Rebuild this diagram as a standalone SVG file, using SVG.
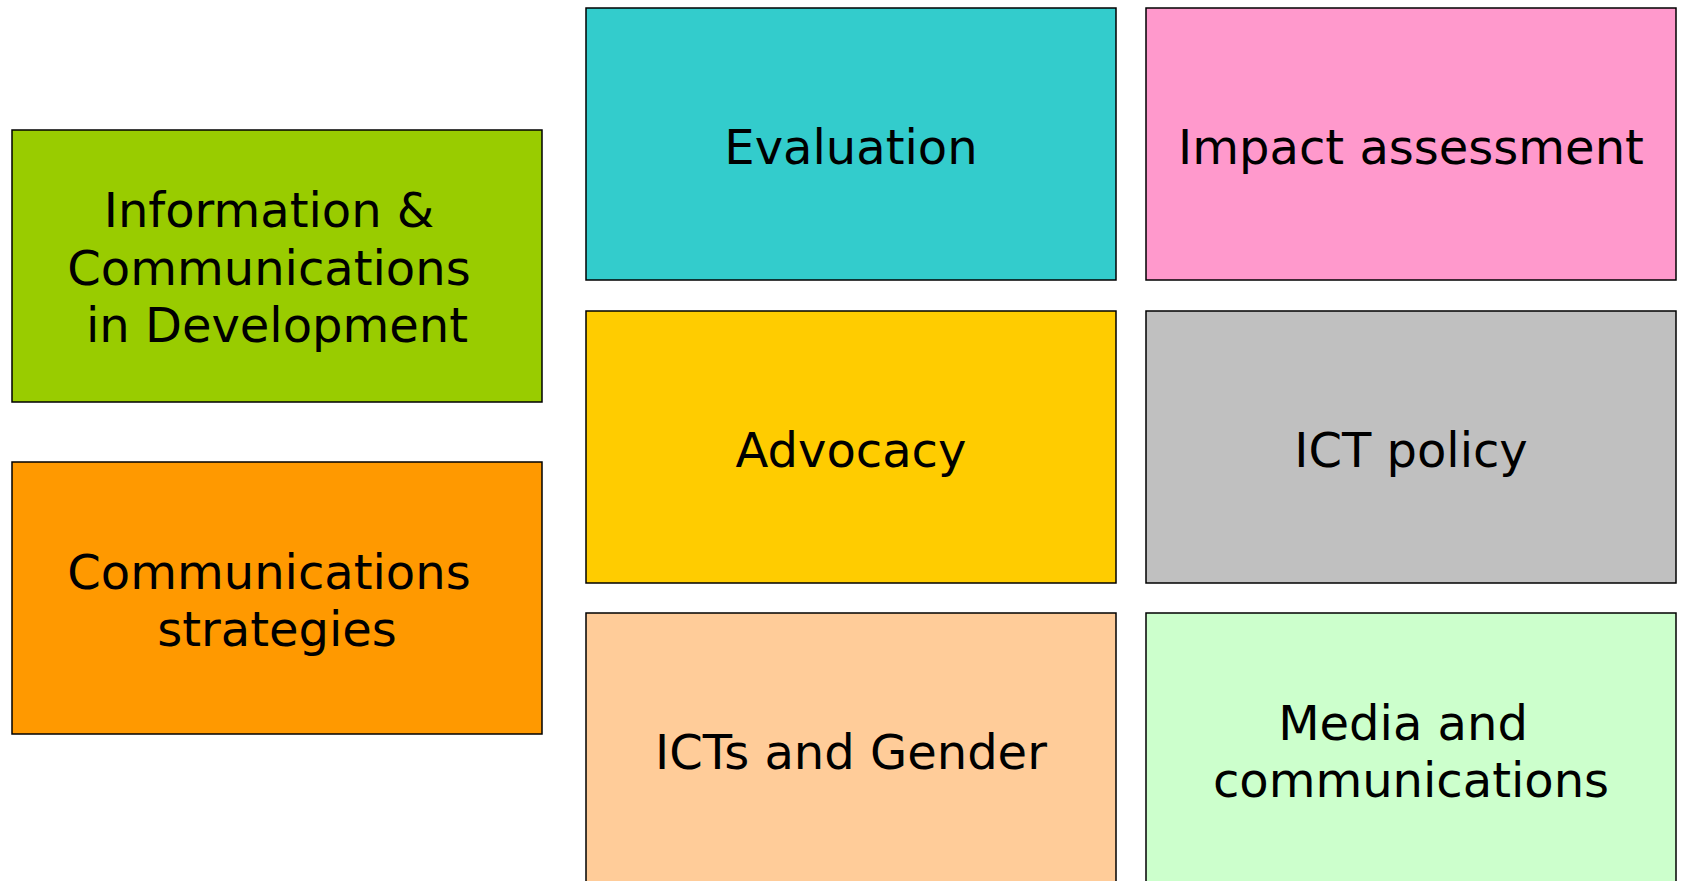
<svg xmlns="http://www.w3.org/2000/svg" width="1681" height="881" viewBox="0 0 1681 881">
<style>
.box{stroke:#000;stroke-width:1.5}
.t{font-family:"DejaVu Sans",Verdana,sans-serif;font-size:48px;fill:#000;text-anchor:middle}
</style>
<rect width="1681" height="881" fill="#fff"/>
<g id="icd">
<rect class="box" x="12" y="130" width="530" height="272" fill="#99CC00"/>
<text class="t"><tspan x="269" y="227">Information &amp;</tspan><tspan x="269" y="285">Communications</tspan><tspan x="277" y="342">in Development</tspan></text>
</g>
<g id="commstrat">
<rect class="box" x="12" y="462" width="530" height="272" fill="#FF9900"/>
<text class="t"><tspan x="269" y="589">Communications</tspan><tspan x="277" y="646">strategies</tspan></text>
</g>
<g id="evaluation">
<rect class="box" x="586" y="8" width="530" height="272" fill="#33CCCC"/>
<text class="t" x="851" y="164">Evaluation</text>
</g>
<g id="impact">
<rect class="box" x="1146" y="8" width="530" height="272" fill="#FF99CC"/>
<text class="t" x="1411" y="164">Impact assessment</text>
</g>
<g id="advocacy">
<rect class="box" x="586" y="311" width="530" height="272" fill="#FFCC00"/>
<text class="t" x="851" y="467">Advocacy</text>
</g>
<g id="ictpolicy">
<rect class="box" x="1146" y="311" width="530" height="272" fill="#C0C0C0"/>
<text class="t" x="1411" y="467">ICT policy</text>
</g>
<g id="gender">
<rect class="box" x="586" y="613" width="530" height="300" fill="#FFCC99"/>
<text class="t" x="851" y="769">ICTs and Gender</text>
</g>
<g id="media">
<rect class="box" x="1146" y="613" width="530" height="300" fill="#CCFFCC"/>
<text class="t"><tspan x="1403" y="740">Media and</tspan><tspan x="1411" y="797">communications</tspan></text>
</g>
<g id="connectors"/>
</svg>
